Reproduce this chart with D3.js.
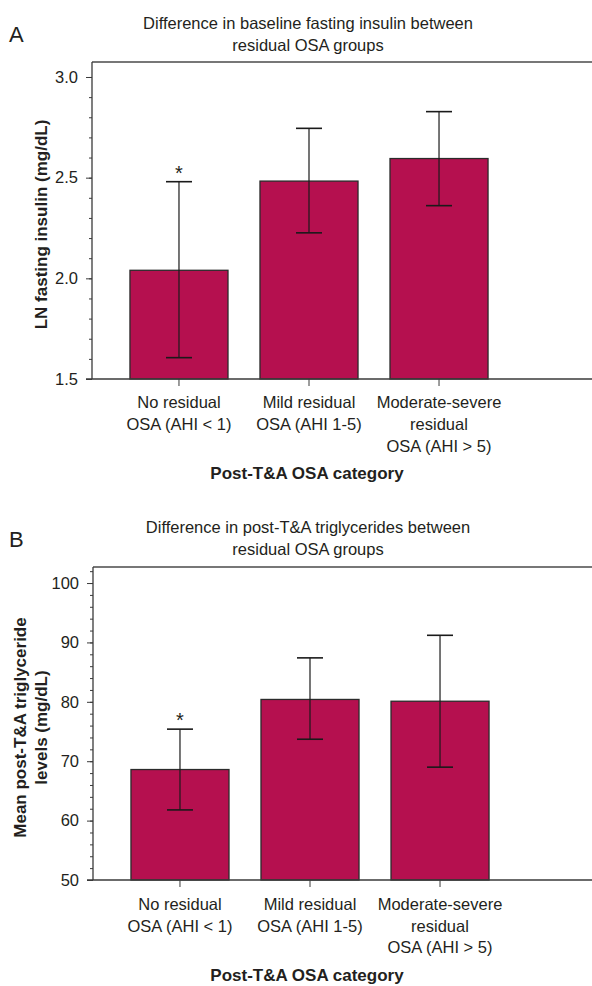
<!DOCTYPE html>
<html>
<head>
<meta charset="utf-8">
<script src="https://cdn.jsdelivr.net/npm/d3@7"></script>
<style>
  body { margin: 0; background: #fff; }
  svg { display: block; font-family: "Liberation Sans", Arial, sans-serif; }
</style>
</head>
<body>
<div id="container"></div>
<script>
// categories (x axis), multi-line labels
const categories = ["none", "mild", "modsev"];
const categoryLines = [
    ["No residual", "OSA (AHI < 1)"],
    ["Mild residual", "OSA (AHI 1-5)"],
    ["Moderate-severe", "residual", "OSA (AHI > 5)"]
];
// significance marker (*) above bar
const starred = [true, false, false];

// panel A: LN fasting insulin
const insulinMean = [2.04, 2.483, 2.595];
const insulinLow = [1.606, 2.226, 2.361];
const insulinHigh = [2.48, 2.745, 2.828];
const insulinTicks = [1.5, 2.0, 2.5, 3.0];

// panel B: post-T&A triglycerides
const trigMean = [68.6, 80.4, 80.1];
const trigLow = [61.8, 73.7, 69.0];
const trigHigh = [75.4, 87.4, 91.2];
const trigTicks = [50, 60, 70, 80, 90, 100];

const WIDTH = 592, HEIGHT = 986;
const BAR_FILL = "#b5104f";
const TEXT = "#231f20";
const FS = 16.5, FS_BOLD = 17;

const svg = d3.select("#container").append("svg")
    .attr("width", WIDTH)
    .attr("height", HEIGHT);

drawPanel({
    letter: "A", letterY: 42,
    title: ["Difference in baseline fasting insulin between", "residual OSA groups"],
    titleY: 29,
    yLabel: ["LN fasting insulin (mg/dL)"], yLabelX: [47],
    top: 62, bottom: 379, axisX: 92,
    domain: [1.5, 3.0745], ticks: insulinTicks, minorStep: 0.1, fmt: d3.format(".1f"),
    mean: insulinMean, low: insulinLow, high: insulinHigh,
    labelGap: 29, lineH: 22, xTitleGap: 100
});

drawPanel({
    letter: "B", letterY: 547,
    title: ["Difference in post-T&A triglycerides between", "residual OSA groups"],
    titleY: 533,
    yLabel: ["Mean post-T&A triglyceride", "levels (mg/dL)"], yLabelX: [26, 47],
    top: 567, bottom: 880, axisX: 93,
    domain: [50, 102.7], ticks: trigTicks, minorStep: 2, fmt: d3.format("d"),
    mean: trigMean, low: trigLow, high: trigHigh,
    labelGap: 30, lineH: 21.5, xTitleGap: 101
});

function drawPanel(p) {
    const g = svg.append("g");

    const x = d3.scaleBand()
        .domain(categories)
        .range([p.axisX, p.axisX + 434])
        .paddingInner(0.246)
        .paddingOuter(0.292);

    const y = d3.scaleLinear()
        .domain(p.domain)
        .range([p.bottom, p.top]);

    // panel letter
    g.append("text")
        .attr("x", 9).attr("y", p.letterY)
        .attr("font-size", 22).attr("fill", TEXT)
        .text(p.letter);

    // title
    g.append("text")
        .attr("x", 308).attr("y", p.titleY)
        .attr("text-anchor", "middle")
        .attr("font-size", FS).attr("fill", TEXT)
        .selectAll("tspan").data(p.title).enter().append("tspan")
        .attr("x", 308)
        .attr("dy", (d, i) => i === 0 ? 0 : 22)
        .text(d => d);

    // frame top line
    g.append("line")
        .attr("x1", p.axisX).attr("x2", WIDTH)
        .attr("y1", p.top).attr("y2", p.top)
        .attr("stroke", "#4a4a4a").attr("stroke-width", 1.6);

    // bars
    g.selectAll("rect.bar").data(p.mean).enter().append("rect")
        .attr("class", "bar")
        .attr("x", (d, i) => x(categories[i]))
        .attr("width", x.bandwidth())
        .attr("y", d => y(d))
        .attr("height", d => y(p.domain[0]) - y(d))
        .attr("fill", BAR_FILL)
        .attr("stroke", "#2b2b2b")
        .attr("stroke-width", 1.3);

    // error bars
    const cap = 13;
    const errs = p.mean.map((m, i) => ({ c: categories[i], m, lo: p.low[i], hi: p.high[i], star: starred[i] }));
    const eb = g.selectAll("g.err").data(errs).enter().append("g")
        .attr("class", "err")
        .attr("transform", d => "translate(" + (x(d.c) + x.bandwidth() / 2) + ",0)");
    eb.append("line")
        .attr("y1", d => y(d.lo))
        .attr("y2", d => y(d.hi))
        .attr("stroke", "#1a1a1a").attr("stroke-width", 1.2);
    eb.append("line")
        .attr("x1", -cap).attr("x2", cap)
        .attr("y1", d => y(d.hi)).attr("y2", d => y(d.hi))
        .attr("stroke", "#1a1a1a").attr("stroke-width", 1.6);
    eb.append("line")
        .attr("x1", -cap).attr("x2", cap)
        .attr("y1", d => y(d.lo)).attr("y2", d => y(d.lo))
        .attr("stroke", "#1a1a1a").attr("stroke-width", 1.6);
    eb.filter(d => d.star).append("text")
        .attr("y", d => y(d.hi) - 2)
        .attr("text-anchor", "middle")
        .attr("font-size", 20).attr("fill", TEXT)
        .text("*");

    // y axis (major + minor)
    const minor = d3.range(p.ticks[0], p.domain[1], p.minorStep);
    const yMinor = g.append("g")
        .attr("transform", "translate(" + p.axisX + ",0)")
        .call(d3.axisLeft(y).tickValues(minor).tickSize(3).tickFormat(""));
    const yAxis = g.append("g")
        .attr("transform", "translate(" + p.axisX + ",0)")
        .call(d3.axisLeft(y).tickValues(p.ticks).tickSize(6).tickPadding(8).tickFormat(p.fmt));
    yMinor.select(".domain").remove();
    yAxis.select(".domain").attr("d", "M0," + p.top + "V" + p.bottom);
    yAxis.selectAll(".tick text").attr("font-size", FS).attr("fill", TEXT)
        .attr("font-family", "Liberation Sans, Arial, sans-serif");
    g.selectAll(".tick line").attr("stroke", "#3a3a3a");
    yAxis.select(".domain").attr("stroke", "#3a3a3a").attr("stroke-width", 1.3);

    // x axis
    const xAxis = g.append("g")
        .attr("transform", "translate(0," + p.bottom + ")")
        .call(d3.axisBottom(x).tickSize(7).tickFormat(""));
    xAxis.select(".domain")
        .attr("d", "M" + (p.axisX - 6) + ",0H" + WIDTH)
        .attr("stroke", "#3a3a3a").attr("stroke-width", 1.3);
    xAxis.selectAll(".tick line").attr("stroke", "#3a3a3a");

    // category labels
    const lab = g.selectAll("text.cat").data(categories).enter().append("text")
        .attr("class", "cat")
        .attr("text-anchor", "middle")
        .attr("font-size", FS).attr("fill", TEXT)
        .attr("y", p.bottom + p.labelGap);
    lab.selectAll("tspan").data((d, i) => categoryLines[i]).enter().append("tspan")
        .attr("x", function () {
            const c = d3.select(this.parentNode).datum();
            return x(c) + x.bandwidth() / 2;
        })
        .attr("dy", (d, i) => i === 0 ? 0 : p.lineH)
        .text(d => d);

    // x axis title
    g.append("text")
        .attr("x", 307).attr("y", p.bottom + p.xTitleGap)
        .attr("text-anchor", "middle")
        .attr("font-size", FS_BOLD).attr("font-weight", "bold").attr("fill", TEXT)
        .text("Post-T&A OSA category");

    // y axis title
    const midY = (p.top + p.bottom) / 2 + 4;
    p.yLabel.forEach((t, i) => {
        g.append("text")
            .attr("transform", "translate(" + p.yLabelX[i] + "," + midY + ") rotate(-90)")
            .attr("text-anchor", "middle")
            .attr("font-size", FS_BOLD).attr("font-weight", "bold").attr("fill", TEXT)
            .text(t);
    });
}
</script>
</body>
</html>
